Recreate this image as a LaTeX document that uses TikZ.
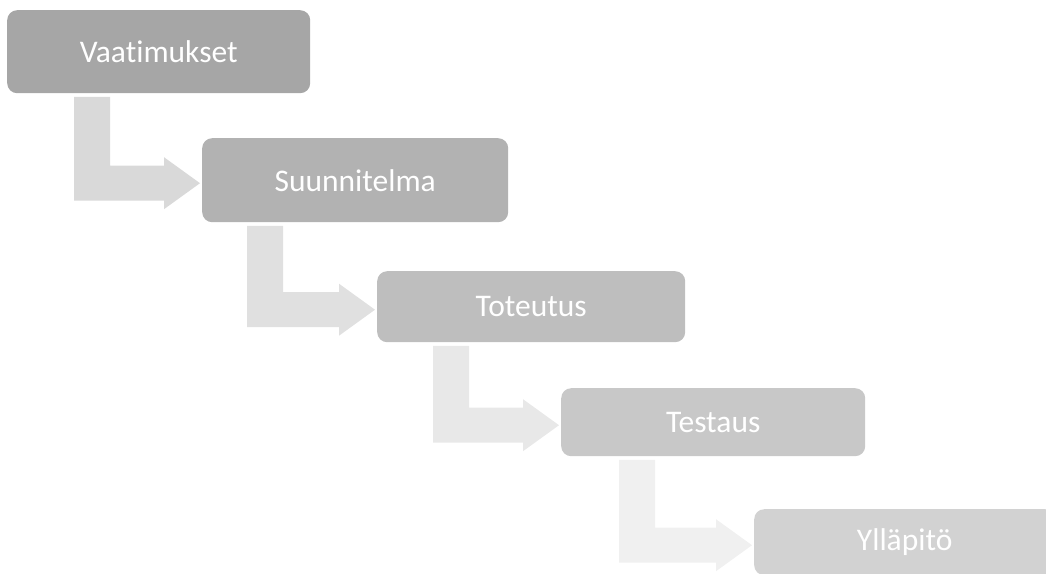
\documentclass[tikz,border=0pt]{standalone}
\usepackage{fontspec}
\setmainfont{Carlito}[Ligatures={NoCommon}]
\usetikzlibrary{calc}
\definecolor{boxA}{HTML}{A6A6A6}
\definecolor{boxB}{HTML}{B2B2B2}
\definecolor{boxC}{HTML}{BEBEBE}
\definecolor{boxD}{HTML}{C8C8C8}
\definecolor{boxE}{HTML}{D2D2D2}
\definecolor{arrA}{HTML}{D9D9D9}
\definecolor{arrB}{HTML}{E0E0E0}
\definecolor{arrC}{HTML}{E8E8E8}
\definecolor{arrD}{HTML}{F0F0F0}
\tikzset{
  stage/.style={draw=none, rounded corners=10pt, anchor=north west, inner sep=0pt,
    text=white, font=\fontsize{31.5}{37}\selectfont},
}
% #1 colour, #2 from node, #3 to node, #4 stem offset from left of from node
\newcommand\bentarr[4]{%
  \coordinate (s) at ($(#2.south west)+(#4,3.5)$);
  \coordinate (t) at ($(#3.west)+(-2,3)$);
  \fill[#1] (s) -- ++(36,0) -- ($(s |- t)+(36,-17.5)$) -- ($(t)+(-36,-17.5)$)
    -- ($(t)+(-36,-26)$) -- (t) -- ($(t)+(-36,26)$) -- ($(t)+(-36,17.5)$)
    -- ($(s |- t)+(0,17.5)$) -- cycle;
}
\begin{document}
\begin{tikzpicture}[x=1pt,y=-1pt]
\useasboundingbox (0,0) rectangle (1046,573);
\clip (0,0) rectangle (1046,573);
\node[stage, fill=boxA, minimum width=303pt, minimum height=83pt] (b1) at (7,10) {Vaatimukset};
\node[stage, fill=boxB, minimum width=306pt, minimum height=84pt] (b2) at (202,138) {Suunnitelma};
\node[stage, fill=boxC, minimum width=308pt, minimum height=71pt] (b3) at (377,271) {Toteutus};
\node[stage, fill=boxD, minimum width=304pt, minimum height=68pt] (b4) at (561,388) {Testaus};
\node[stage, fill=boxE, minimum width=301pt, minimum height=66pt] (b5) at (754,509) {Ylläpitö};
\bentarr{arrA}{b1}{b2}{67}
\bentarr{arrB}{b2}{b3}{45}
\bentarr{arrC}{b3}{b4}{56}
\bentarr{arrD}{b4}{b5}{58}
\end{tikzpicture}
\end{document}
